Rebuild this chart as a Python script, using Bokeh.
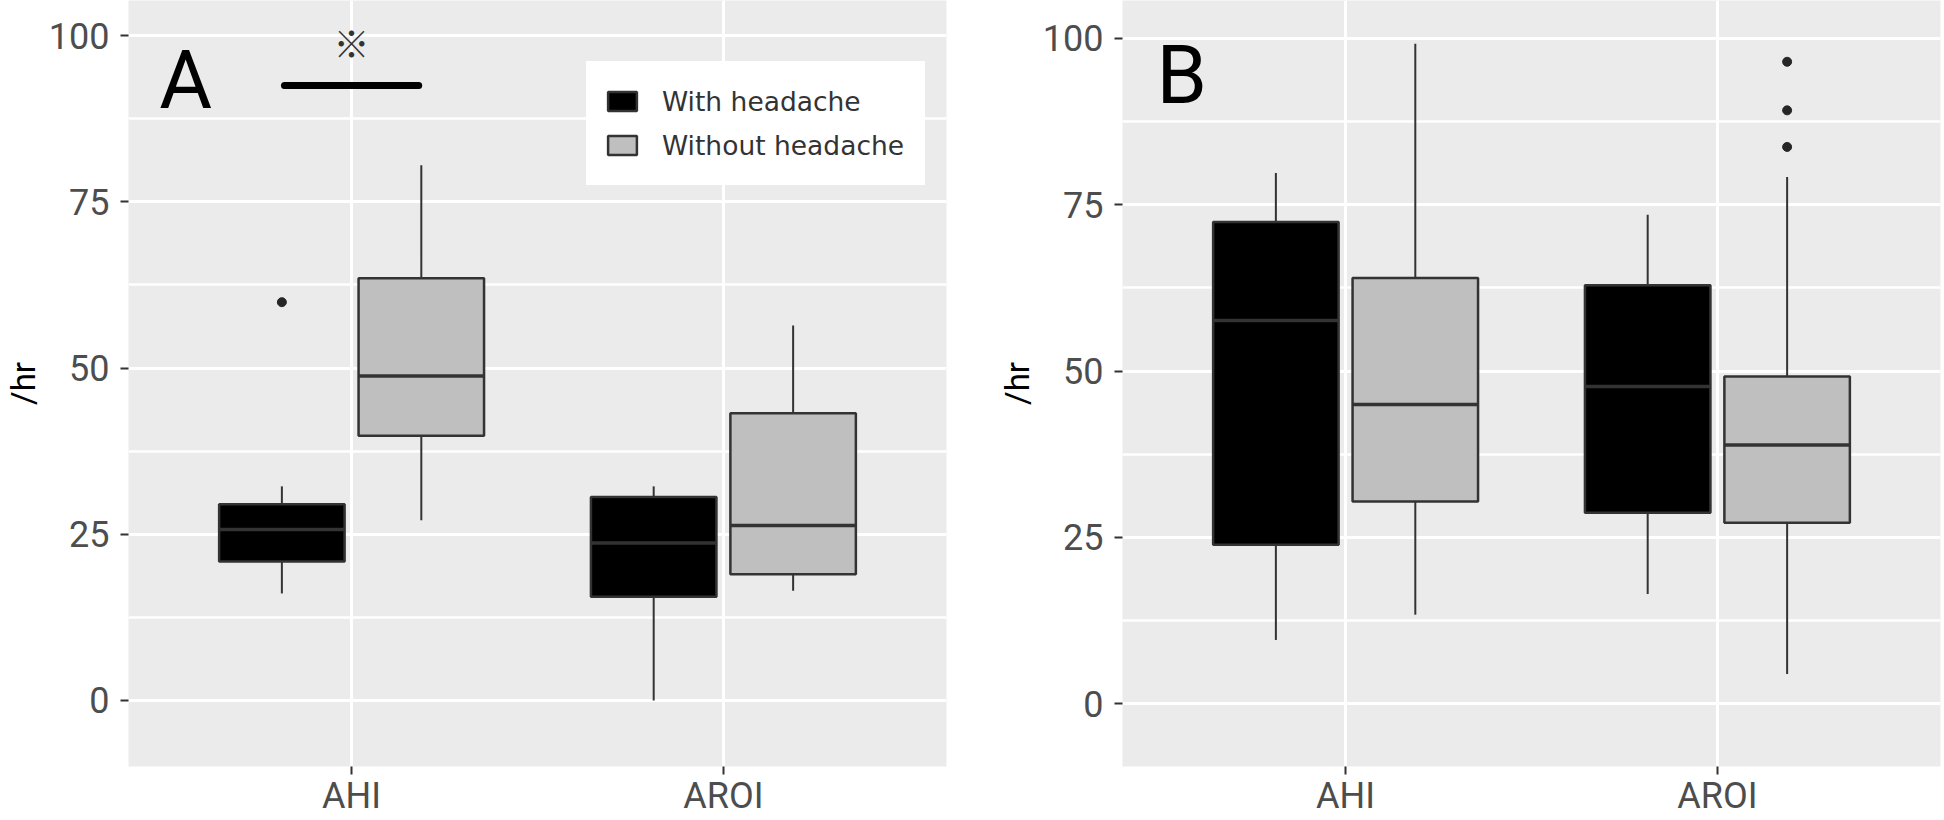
from bokeh.plotting import figure
from bokeh.layouts import row
from bokeh.models import Range1d, FixedTicker, Legend, LegendItem, ColumnDataSource
from bokeh.core.properties import value
from bokeh.embed import file_html
from bokeh.resources import INLINE

# ---------------- data ----------------
categories = ["AHI", "AROI"]
groups = ["With headache", "Without headache"]
y_ticks = [0, 25, 50, 75, 100]
y_minor = [12.5, 37.5, 62.5, 87.5]

# Panel A
a_with_low = [16.1, 0.0]
a_with_q1 = [20.9, 15.6]
a_with_med = [25.7, 23.7]
a_with_q3 = [29.5, 30.6]
a_with_high = [32.2, 32.2]
a_wo_low = [27.1, 16.5]
a_wo_q1 = [39.8, 19.0]
a_wo_med = [48.8, 26.3]
a_wo_q3 = [63.5, 43.2]
a_wo_high = [80.5, 56.4]
a_out_cat = ["AHI"]
a_out_group = ["With headache"]
a_out_val = [59.9]

# Panel B
b_with_low = [9.6, 16.5]
b_with_q1 = [23.9, 28.7]
b_with_med = [57.6, 47.7]
b_with_q3 = [72.4, 62.9]
b_with_high = [79.8, 73.5]
b_wo_low = [13.4, 4.5]
b_wo_q1 = [30.4, 27.2]
b_wo_med = [45.0, 38.9]
b_wo_q3 = [64.0, 49.2]
b_wo_high = [99.2, 79.2]
b_out_cat = ["AROI", "AROI", "AROI"]
b_out_group = ["Without headache"] * 3
b_out_val = [96.5, 89.2, 83.7]

# ---------------- style ----------------
FILLS = {"With headache": "#000000", "Without headache": "#BFBFBF"}
OFFS = {"With headache": -0.1875, "Without headache": 0.1875}
BOXW = 0.3375
EDGE = "#333333"
TICKC = "#4D4D4D"


def xpos(cat, grp):
    return categories.index(cat) + 1 + OFFS[grp]


def make_panel(width, border_left, border_right, yr, stats, outs, letter, letter_pos):
    p = figure(width=width, height=820, x_range=Range1d(0.4, 2.6), y_range=Range1d(*yr),
               output_backend="svg", toolbar_location=None,
               min_border_left=border_left, min_border_right=border_right,
               min_border_top=0, min_border_bottom=54)
    p.background_fill_color = "#EBEBEB"
    p.border_fill_color = "white"
    p.outline_line_color = None

    p.xaxis.ticker = FixedTicker(ticks=[1, 2], minor_ticks=[])
    p.xaxis.major_label_overrides = {i + 1: c for i, c in enumerate(categories)}
    p.yaxis.ticker = FixedTicker(ticks=y_ticks, minor_ticks=y_minor)
    for ax in (p.xaxis[0], p.yaxis[0]):
        ax.axis_line_color = None
        ax.major_tick_line_color = EDGE
        ax.major_tick_line_width = 2
        ax.major_tick_out = 8
        ax.major_tick_in = 0
        ax.minor_tick_line_color = None
        ax.major_label_text_font = "Roboto"
        ax.major_label_text_font_size = "36px"
        ax.major_label_text_color = TICKC
    p.xaxis.major_label_standoff = 0
    p.yaxis.major_label_standoff = 11
    p.yaxis.axis_label = "/hr"
    p.yaxis.axis_label_text_font = "Roboto"
    p.yaxis.axis_label_text_font_size = "33px"
    p.yaxis.axis_label_text_font_style = "normal"
    p.yaxis.axis_label_text_color = "black"
    p.yaxis.axis_label_standoff = 3

    p.xgrid.grid_line_color = "white"
    p.xgrid.grid_line_width = 3
    p.ygrid.grid_line_color = "white"
    p.ygrid.grid_line_width = 3
    p.ygrid.minor_grid_line_color = "white"
    p.ygrid.minor_grid_line_width = 2.5

    renderers = {}
    for grp, (low, q1, med, q3, high) in stats.items():
        xs = [xpos(c, grp) for c in categories]
        src = ColumnDataSource(dict(x=xs, low=low, q1=q1, med=med, q3=q3, high=high,
                                    x0=[x - BOXW / 2 for x in xs], x1=[x + BOXW / 2 for x in xs]))
        p.segment(x0="x", x1="x", y0="q3", y1="high", source=src, line_color=EDGE, line_width=2)
        p.segment(x0="x", x1="x", y0="q1", y1="low", source=src, line_color=EDGE, line_width=2)
        r = p.vbar(x="x", width=BOXW, top="q3", bottom="q1", source=src,
                   fill_color=FILLS[grp], line_color=EDGE, line_width=2.5)
        p.segment(x0="x0", x1="x1", y0="med", y1="med", source=src, line_color=EDGE, line_width=3.5)
        renderers[grp] = r

    oc, og, ov = outs
    p.scatter(x=[xpos(c, g) for c, g in zip(oc, og)], y=ov, size=9, marker="circle",
              color="#262626")

    p.text(x=[letter_pos[0]], y=[letter_pos[1]], text=[letter], text_font=value("Roboto"),
           text_font_size="81px", text_align="center", text_baseline="middle",
           text_color="black")
    return p, renderers


pA, rA = make_panel(994, 127, 48, (-9.93, 105.27),
                    {"With headache": (a_with_low, a_with_q1, a_with_med, a_with_q3, a_with_high),
                     "Without headache": (a_wo_low, a_wo_q1, a_wo_med, a_wo_q3, a_wo_high)},
                    (a_out_cat, a_out_group, a_out_val), "A", (0.554, 93.3))

# significance annotation in panel A
pA.segment(x0=[xpos("AHI", "With headache") + 0.007], x1=[xpos("AHI", "Without headache") - 0.007],
           y0=[92.5], y1=[92.5], line_color="black", line_width=7, line_cap="round")
pA.text(x=[1.0], y=[99.0], text=["※"], text_font=value("Noto Sans CJK JP"),
        text_font_size="36px", text_align="center", text_baseline="middle", text_color="#333333")

legend = Legend(items=[LegendItem(label=g, renderers=[rA[g]]) for g in groups],
                location=(458, 581), margin=0, padding=17, spacing=0,
                glyph_width=36, glyph_height=24, label_height=44, label_standoff=22,
                label_width=245,
                label_text_font="DejaVu Sans", label_text_font_size="26.5px",
                label_text_color="#333333", background_fill_color="white",
                background_fill_alpha=1.0, border_line_color="white", border_line_width=1)
pA.add_layout(legend)

pB, rB = make_panel(950, 127, 4, (-9.42, 105.71),
                    {"With headache": (b_with_low, b_with_q1, b_with_med, b_with_q3, b_with_high),
                     "Without headache": (b_wo_low, b_wo_q1, b_wo_med, b_wo_q3, b_wo_high)},
                    (b_out_cat, b_out_group, b_out_val), "B", (0.559, 94.5))

layout = row(pA, pB)
open("out.html", "w").write(file_html(layout, INLINE))
